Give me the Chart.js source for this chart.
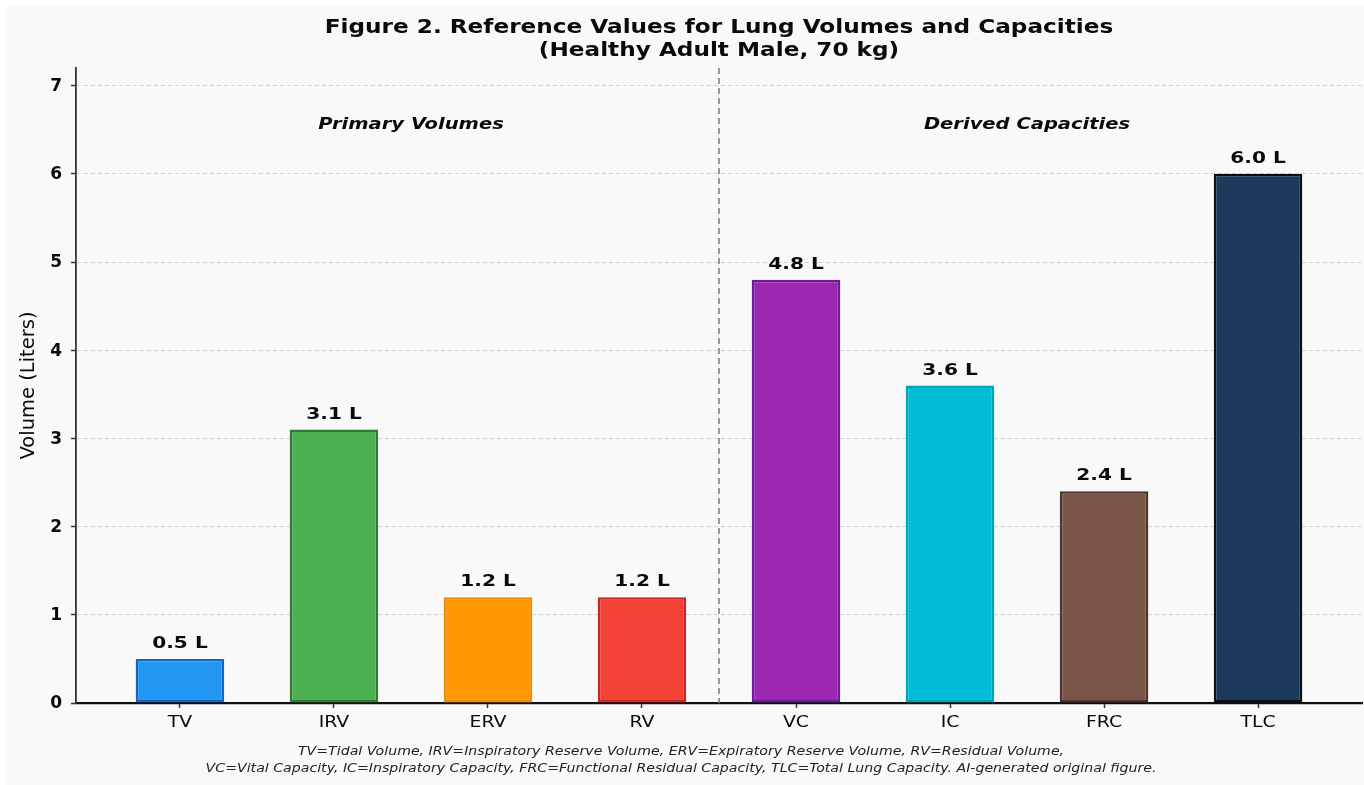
<!DOCTYPE html>
<html>
<head>
<meta charset="utf-8">
<script src="https://cdn.jsdelivr.net/npm/chart.js@4.4.1/dist/chart.umd.min.js"></script>
<style>
  html, body { margin: 0; padding: 0; background: #ffffff; }
  #wrap { width: 1364px; height: 785px; position: relative; }
</style>
</head>
<body>
<div id="wrap"><canvas id="c" width="1364" height="785"></canvas></div>
<script>
// Lung volume / capacity reference values (litres)
const categories = ['TV', 'IRV', 'ERV', 'RV', 'VC', 'IC', 'FRC', 'TLC'];
const volumes = [0.5, 3.1, 1.2, 1.2, 4.8, 3.6, 2.4, 6.0];
const valueLabels = ['0.5 L', '3.1 L', '1.2 L', '1.2 L', '4.8 L', '3.6 L', '2.4 L', '6.0 L'];
const yTicks = [0, 1, 2, 3, 4, 5, 6, 7];
const groupLabels = ['Primary Volumes', 'Derived Capacities'];
const titleLines = ['Figure 2. Reference Values for Lung Volumes and Capacities', '(Healthy Adult Male, 70 kg)'];
const footnoteLines = [
  'TV=Tidal Volume, IRV=Inspiratory Reserve Volume, ERV=Expiratory Reserve Volume, RV=Residual Volume,',
  'VC=Vital Capacity, IC=Inspiratory Capacity, FRC=Functional Residual Capacity, TLC=Total Lung Capacity. AI-generated original figure.'
];

const fillColors = ['#2196F3', '#4CAF50', '#FF9800', '#F44336', '#9C27B0', '#00BCD4', '#795548', '#1B3A5C'];
const edgeColors = ['#1565C0', '#2E7D32', '#EF8C00', '#C62828', '#6A1B9A', '#00A3B8', '#4E342E', '#0A0F18'];

const FONT = "'DejaVu Sans', sans-serif";
const WIDE = 1.22; // horizontal text stretch used throughout the figure

const points = categories.map((c, i) => ({ x: i, y: volumes[i] }));

function wideText(ctx, text, x, y, sx) {
  ctx.save();
  ctx.translate(x, y);
  ctx.scale(sx, 1);
  ctx.fillText(text, 0, 0);
  ctx.restore();
}

const decor = {
  id: 'decor',
  beforeDraw(chart) {
    const ctx = chart.ctx;
    ctx.save();
    ctx.fillStyle = '#ffffff';
    ctx.fillRect(0, 0, chart.width, chart.height);
    ctx.fillStyle = '#f9f9f9';
    ctx.fillRect(6, 6, chart.width - 6, chart.height - 6);
    ctx.restore();
  },
  afterDatasetsDraw(chart) {
    const ctx = chart.ctx;
    const xs = chart.scales.x, ys = chart.scales.y;
    const area = chart.chartArea;
    ctx.save();

    // divider between the two groups
    const xd = xs.getPixelForValue(3.5);
    ctx.strokeStyle = '#808080';
    ctx.lineWidth = 1.6;
    ctx.setLineDash([6, 4]);
    ctx.beginPath();
    ctx.moveTo(xd, area.top);
    ctx.lineTo(xd, area.bottom);
    ctx.stroke();
    ctx.setLineDash([]);

    ctx.fillStyle = '#0a0a0a';
    ctx.textAlign = 'center';

    // group headings
    ctx.font = "italic bold 16px " + FONT;
    ctx.textBaseline = 'middle';
    wideText(ctx, groupLabels[0], xs.getPixelForValue(1.5), ys.getPixelForValue(6.56), WIDE);
    wideText(ctx, groupLabels[1], xs.getPixelForValue(5.5), ys.getPixelForValue(6.56), WIDE);

    // value labels above bars
    ctx.font = "bold 16.5px " + FONT;
    ctx.textBaseline = 'alphabetic';
    const meta = chart.getDatasetMeta(0);
    meta.data.forEach((bar, i) => {
      wideText(ctx, valueLabels[i], bar.x, bar.y - 11, WIDE);
    });

    // category labels
    ctx.font = "15.5px " + FONT;
    ctx.textBaseline = 'middle';
    categories.forEach((c, i) => {
      wideText(ctx, c, xs.getPixelForValue(i), area.bottom + 20, WIDE);
    });

    // y tick labels
    ctx.font = "bold 17px " + FONT;
    ctx.textAlign = 'right';
    yTicks.forEach(v => {
      ctx.fillText(String(v), area.left - 14, ys.getPixelForValue(v) + 1);
    });
    ctx.textAlign = 'center';

    // y axis title
    ctx.save();
    ctx.translate(29, (area.top + area.bottom) / 2);
    ctx.rotate(-Math.PI / 2);
    ctx.font = "19.5px " + FONT;
    ctx.textBaseline = 'middle';
    ctx.fillText('Volume (Liters)', 0, 0);
    ctx.restore();

    // figure title
    const cx = (area.left + area.right) / 2;
    ctx.font = "bold 19px " + FONT;
    ctx.textBaseline = 'middle';
    wideText(ctx, titleLines[0], cx, 28, WIDE);
    wideText(ctx, titleLines[1], cx, 51, WIDE);

    // footnote
    ctx.font = "italic 11.6px " + FONT;
    ctx.fillStyle = '#222222';
    wideText(ctx, footnoteLines[0], cx - 38, 752, WIDE);
    wideText(ctx, footnoteLines[1], cx - 38, 769, WIDE);
    ctx.restore();
  }
};

new Chart(document.getElementById('c'), {
  type: 'bar',
  data: {
    datasets: [{
      data: points,
      backgroundColor: fillColors,
      borderColor: edgeColors,
      borderWidth: 2.5,
      borderSkipped: false,
      barPercentage: 0.575,
      categoryPercentage: 1.0
    }]
  },
  options: {
    responsive: false,
    animation: false,
    devicePixelRatio: 1,
    layout: { padding: { left: 0, top: 68, right: 2, bottom: 0 } },
    plugins: { legend: { display: false }, tooltip: { enabled: false }, title: { display: false } },
    scales: {
      x: {
        type: 'linear',
        offset: false,
        min: -0.675,
        max: 7.675,
        afterBuildTicks(scale) { scale.ticks = categories.map((c, i) => ({ value: i })); },
        afterFit(scale) { scale.height = 82; },
        ticks: { display: false, autoSkip: false, maxRotation: 0 },
        grid: { offset: false, drawOnChartArea: false, drawTicks: true, tickLength: 5, tickColor: '#333333', tickWidth: 1.5 },
        border: { display: true, color: '#111111', width: 2.2 }
      },
      y: {
        min: 0,
        max: 7.2,
        afterBuildTicks(scale) { scale.ticks = yTicks.map(v => ({ value: v })); },
        afterFit(scale) { scale.width = 76; },
        ticks: { display: false },
        grid: { color: '#cfcfcf', lineWidth: 1, tickLength: 5, tickColor: '#333333', tickWidth: 1.5, tickBorderDash: [] },
        border: { display: true, color: '#333333', width: 1.8, dash: [4, 3] }
      }
    }
  },
  plugins: [decor]
});
</script>
</body>
</html>
